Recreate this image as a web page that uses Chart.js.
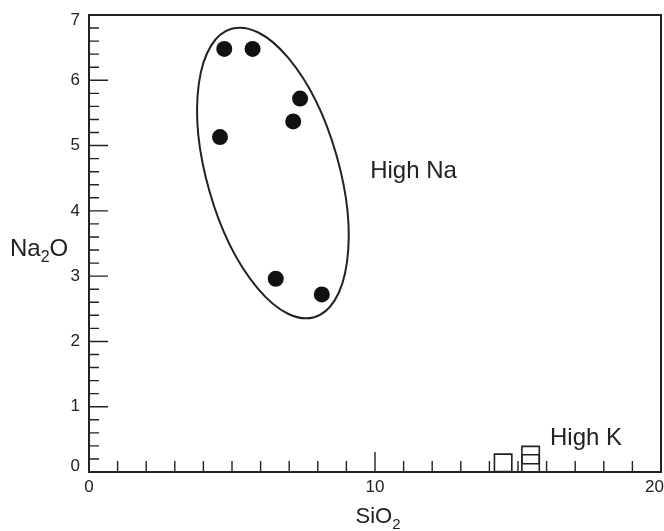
<!DOCTYPE html>
<html>
<head>
<meta charset="utf-8">
<script src="https://cdn.jsdelivr.net/npm/chart.js@4/dist/chart.umd.min.js"></script>
<style>
  body { margin: 0; background: #fff; }
</style>
</head>
<body>
<canvas id="chart" width="664" height="531"></canvas>
<script>
// High Na group (filled circles)
var naSiO2 = [4.73, 5.72, 7.38, 7.14, 4.58, 6.53, 8.14];
var naNa2O = [6.48, 6.48, 5.72, 5.37, 5.13, 2.96, 2.72];

// High K group (open squares)
var kSiO2 = [14.48, 15.44, 15.44];
var kNa2O = [0.14, 0.13, 0.26];

var xTickLabels = [0, 10, 20];
var yTickLabels = [0, 1, 2, 3, 4, 5, 6, 7];

var ink = '#222';
var font = '"Liberation Sans", Arial, Helvetica, sans-serif';

function toPoints(xs, ys) {
    return xs.map((x, i) => ({ x: x, y: ys[i] }));
}

var framePlugin = {
    id: 'frame',
    afterDatasetsDraw(chart) {
        var ctx = chart.ctx;
        var a = chart.chartArea;
        var xs = chart.scales.x;
        var ys = chart.scales.y;
        ctx.save();
        ctx.strokeStyle = ink;
        ctx.lineWidth = 2;
        ctx.strokeRect(a.left, a.top, a.right - a.left, a.bottom - a.top);

        // inward ticks
        ctx.lineWidth = 1.4;
        ctx.beginPath();
        for (var i = 0; i <= 20; i++) {
            var px = xs.getPixelForValue(i);
            var len = i % 10 === 0 ? 20 : 11;
            ctx.moveTo(px, a.bottom);
            ctx.lineTo(px, a.bottom - len);
        }
        for (var j = 0; j <= 35; j++) {
            var py = ys.getPixelForValue(j / 5);
            var ylen = j % 5 === 0 ? 19 : 10;
            ctx.moveTo(a.left, py);
            ctx.lineTo(a.left + ylen, py);
        }
        ctx.stroke();

        // tick labels
        ctx.fillStyle = ink;
        ctx.font = '17px ' + font;
        ctx.textBaseline = 'middle';
        xTickLabels.forEach((v, k) => {
            var px = xs.getPixelForValue(v);
            if (k === xTickLabels.length - 1) {
                ctx.textAlign = 'right';
                px = chart.width;
            } else {
                ctx.textAlign = 'center';
            }
            ctx.fillText(String(v), px, a.bottom + 15);
        });
        ctx.textAlign = 'right';
        yTickLabels.forEach(v => {
            var py = Math.max(ys.getPixelForValue(v), 20);
            if (v === 0) py -= 6;
            ctx.fillText(String(v), a.left - 9, py);
        });

        // axis titles with subscripts
        ctx.textAlign = 'left';
        ctx.textBaseline = 'alphabetic';
        drawSub(ctx, 'Na', '2', 'O', 10, 256, 24, 16);
        ctx.font = '22px ' + font;
        var w = ctx.measureText('SiO').width;
        ctx.font = '15px ' + font;
        w += ctx.measureText('2').width;
        drawSub(ctx, 'SiO', '2', '', 378 - w / 2, 523, 22, 15);

        // group ellipse
        ctx.lineWidth = 2;
        ctx.beginPath();
        ctx.ellipse(xs.getPixelForValue(6.43), ys.getPixelForValue(4.58), 150, 66, 74 * Math.PI / 180, 0, Math.PI * 2);
        ctx.stroke();

        // group labels
        ctx.font = '24px ' + font;
        ctx.fillText('High Na', xs.getPixelForValue(9.83), ys.getPixelForValue(4.5));
        ctx.fillText('High K', xs.getPixelForValue(16.12), ys.getPixelForValue(0.41));
        ctx.restore();
    }
};

function drawSub(ctx, pre, sub, post, x, y, size, subSize) {
    ctx.font = size + 'px ' + font;
    ctx.fillText(pre, x, y);
    x += ctx.measureText(pre).width;
    ctx.font = subSize + 'px ' + font;
    ctx.fillText(sub, x, y + 6);
    x += ctx.measureText(sub).width;
    ctx.font = size + 'px ' + font;
    if (post) ctx.fillText(post, x, y);
}

var ctx = document.getElementById('chart').getContext('2d');
var chart = new Chart(ctx, {
    type: 'scatter',
    data: {
        datasets: [
            {
                label: 'High Na',
                data: toPoints(naSiO2, naNa2O),
                pointStyle: 'circle',
                pointRadius: 8,
                backgroundColor: '#111',
                borderColor: '#111',
                borderWidth: 0,
                clip: false
            },
            {
                label: 'High K',
                data: toPoints(kSiO2, kNa2O),
                pointStyle: 'rect',
                pointRadius: 12.3,
                backgroundColor: 'rgba(0,0,0,0)',
                borderColor: ink,
                borderWidth: 1.6,
                clip: false
            }
        ]
    },
    options: {
        responsive: false,
        animation: false,
        layout: {
            autoPadding: false,
            padding: { left: 89, right: 3, top: 15, bottom: 59 }
        },
        plugins: {
            legend: { display: false },
            tooltip: { enabled: false }
        },
        scales: {
            x: { type: 'linear', min: 0, max: 20, display: false },
            y: { type: 'linear', min: 0, max: 7, display: false }
        }
    },
    plugins: [framePlugin]
});
</script>
</body>
</html>
